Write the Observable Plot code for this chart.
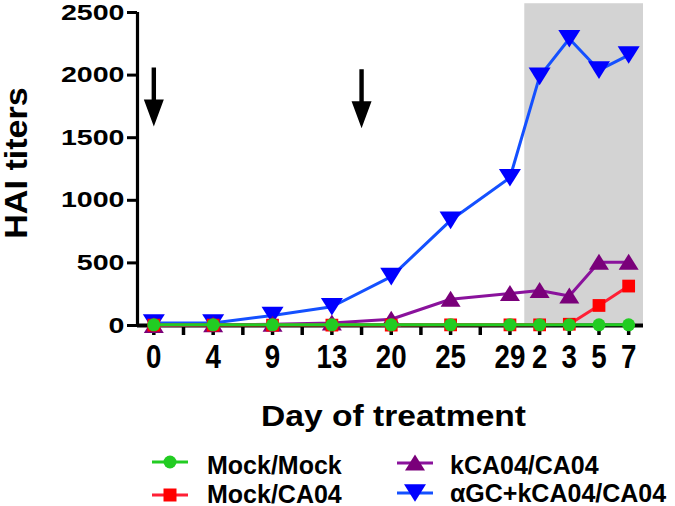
<!DOCTYPE html>
<html>
<head>
<meta charset="utf-8">
<script src="https://cdn.jsdelivr.net/npm/d3@7"></script>
<script src="https://cdn.jsdelivr.net/npm/@observablehq/plot@0.6"></script>
<style>
  body { margin: 0; background: #fff; }
  #wrap { position: relative; width: 675px; height: 506px; font-family: "Liberation Sans", Arial, sans-serif; overflow: hidden; }
  #legend { position: absolute; left: 0; top: 440px; overflow: visible; }
</style>
</head>
<body>
<div id="wrap"></div>
<script>
// ---------- data ----------
const treatmentDays = ["0", "4", "9", "13", "20", "25", "29"];
const postDays = ["2", "3", "5", "7"];
const seriesNames = ["Mock/Mock", "Mock/CA04", "kCA04/CA04", "αGC+kCA04/CA04"];
const mockMock   = [5, 5, 5, 5, 5, 5, 5, 5, 5, 5, 5];
const mockCA04   = [3, 3, 3, 3, 3, 5, 5, 5, 10, 160, 315];
const kCA04      = [0, 5, 10, 20, 50, 210, 255, 280, 235, 505, 505];
const aGCkCA04   = [20, 20, 80, 150, 390, 840, 1180, 1990, 2290, 2040, 2160];
const yTicks = [0, 500, 1000, 1500, 2000, 2500];
// booster arrows: position in tick slots (treatment phase), tip value on HAI scale
const arrowSlots = [0, 7];
const arrowTips = [1590, 1575];

// ---------- derived ----------
const dayLabels = [...treatmentDays, ...postDays];
// treatment days sit on every other tick, post-challenge days on every tick
const slots = [...treatmentDays.map((d, i) => 2 * i), ...postDays.map((d, j) => 2 * (treatmentDays.length - 1) + 1 + j)];
const lastSlot = slots[slots.length - 1];
const labelBySlot = new Map(slots.map((s, i) => [s, dayLabels[i]]));
const shadeStart = (slots[treatmentDays.length - 1] + slots[treatmentDays.length]) / 2;
const xMin = -0.55, xMax = lastSlot + 0.5;

const valuesBySeries = [mockMock, mockCA04, kCA04, aGCkCA04];
const lineColors = ["#22cc22", "#ff1f35", "#8a129c", "#1450ff"];
const dotColors  = ["#22cc22", "#ff0000", "#7a007a", "#0000ff"];

const rows = seriesNames.map((name, k) =>
  valuesBySeries[k].map((v, i) => ({series: name, slot: slots[i], day: dayLabels[i], value: v}))
);
const arrows = arrowSlots.map((s, i) => ({slot: s, tip: arrowTips[i]}));

// ---------- symbols ----------
const triUp = {draw(ctx, size) { const r = Math.sqrt(size / Math.PI);
  ctx.moveTo(0, -0.85 * r); ctx.lineTo(r, 0.75 * r); ctx.lineTo(-r, 0.75 * r); ctx.closePath(); }};
const triDown = {draw(ctx, size) { const r = Math.sqrt(size / Math.PI);
  ctx.moveTo(-r, -0.8 * r); ctx.lineTo(r, -0.8 * r); ctx.lineTo(0, 0.8 * r); ctx.closePath(); }};
const arrowSym = {draw(ctx, size) { const r = Math.sqrt(size / Math.PI);
  const hw = r, hh = 2.7 * r, sw = 0.22 * r, sl = 3.2 * r;
  ctx.moveTo(0, 0); ctx.lineTo(-hw, -hh); ctx.lineTo(-sw, -hh); ctx.lineTo(-sw, -hh - sl);
  ctx.lineTo(sw, -hh - sl); ctx.lineTo(sw, -hh); ctx.lineTo(hw, -hh); ctx.closePath(); }};

const symbols = ["circle", "square", triUp, triDown];
const radii = [6.5, 7.2, 10, 11];

// draw order: blue, purple, red, green (green on top)
const order = [3, 2, 1, 0];
const seriesMarks = order.flatMap(k => [
  Plot.line(rows[k], {x: "slot", y: "value", stroke: lineColors[k], strokeWidth: 3}),
  Plot.dot(rows[k], {x: "slot", y: "value", symbol: symbols[k], r: radii[k], fill: dotColors[k], stroke: "none"})
]);

const plot = Plot.plot({
  width: 675,
  height: 440,
  marginLeft: 137,
  marginRight: 32,
  marginTop: 12,
  marginBottom: 115,
  style: {fontFamily: "'Liberation Sans', Arial, sans-serif", fontWeight: "bold", color: "black", background: "white", overflow: "visible"},
  x: {type: "linear", domain: [xMin, xMax]},
  y: {domain: [0, 2500]},
  marks: [
    Plot.rect([{x1: shadeStart, x2: xMax, y1: 0, y2: 2570}], {x1: "x1", x2: "x2", y1: "y1", y2: "y2", fill: "#d3d3d3", clip: false}),
    Plot.axisY({ticks: yTicks, tickFormat: "d", tickSize: 10, tickPadding: 3, fontSize: 22, strokeWidth: 3, label: null}),
    Plot.axisX({ticks: d3.range(0, lastSlot + 1), tickFormat: s => labelBySlot.get(s) ?? "", tickSize: 10, tickPadding: 9, fontSize: 33, strokeWidth: 3.5, label: null}),
    Plot.ruleX([xMin], {y1: 0, y2: 2500, strokeWidth: 3.2, stroke: "black"}),
    Plot.ruleY([0], {x1: xMin, x2: xMax, strokeWidth: 4, stroke: "black"}),
    ...seriesMarks,
    Plot.dot(arrows, {x: "slot", y: "tip", symbol: arrowSym, r: 10, fill: "black", stroke: "none"}),
    Plot.text(["HAI titers"], {frameAnchor: "left", rotate: -90, dx: -120, dy: -6, fontSize: 31, fontWeight: "bold", fill: "black", textAnchor: "middle", lineAnchor: "middle"}),
    Plot.text(["Day of treatment"], {frameAnchor: "bottom", dx: 3, dy: 100, fontSize: 30, fontWeight: "bold", fill: "black", textAnchor: "middle", lineAnchor: "bottom"})
  ]
});

// horizontal stretch helper (the reference typography is stretched); keeps Plot's own placement
function stretch(nodes, sx) {
  nodes.forEach(t => {
    const tr = t.getAttribute("transform") || "";
    t.setAttribute("transform", `${tr} scale(${sx},1)`);
  });
}
const allText = [...plot.querySelectorAll("text")];
stretch([...plot.querySelectorAll('g[aria-label="y-axis tick label"] text')], 1.3);
stretch([...plot.querySelectorAll('g[aria-label="x-axis tick label"] text')], 0.84);
stretch(allText.filter(t => t.textContent === "HAI titers"), 1.1);
stretch(allText.filter(t => t.textContent === "Day of treatment"), 1.12);

const wrap = document.getElementById("wrap");
wrap.appendChild(plot);

// ---------- legend ----------
const legendPos = [
  {x: 152, y: 22, tx: 207, ty: 33.5},
  {x: 152, y: 55, tx: 207, ty: 62.5},
  {x: 397, y: 23, tx: 450, ty: 34},
  {x: 397, y: 53, tx: 450, ty: 62}
];
const leg = d3.create("svg").attr("id", "legend").attr("width", 675).attr("height", 66)
  .style("font-family", "'Liberation Sans', Arial, sans-serif").style("font-weight", "bold");
seriesNames.forEach((name, k) => {
  const p = legendPos[k];
  const g = leg.append("g");
  g.append("line").attr("x1", p.x).attr("x2", p.x + 36).attr("y1", p.y).attr("y2", p.y)
    .attr("stroke", lineColors[k]).attr("stroke-width", 3);
  const sym = typeof symbols[k] === "string" ? (symbols[k] === "circle" ? d3.symbolCircle : d3.symbolSquare) : symbols[k];
  const size = (symbols[k] === "square") ? 13 * 13 : radii[k] * radii[k] * Math.PI;
  g.append("path").attr("transform", `translate(${p.x + 18},${p.y})`)
    .attr("d", d3.symbol(sym, size)()).attr("fill", dotColors[k]);
  g.append("text").attr("x", p.tx).attr("y", p.ty).attr("font-size", 25).attr("fill", "black").text(name);
});
wrap.appendChild(leg.node());
</script>
</body>
</html>
